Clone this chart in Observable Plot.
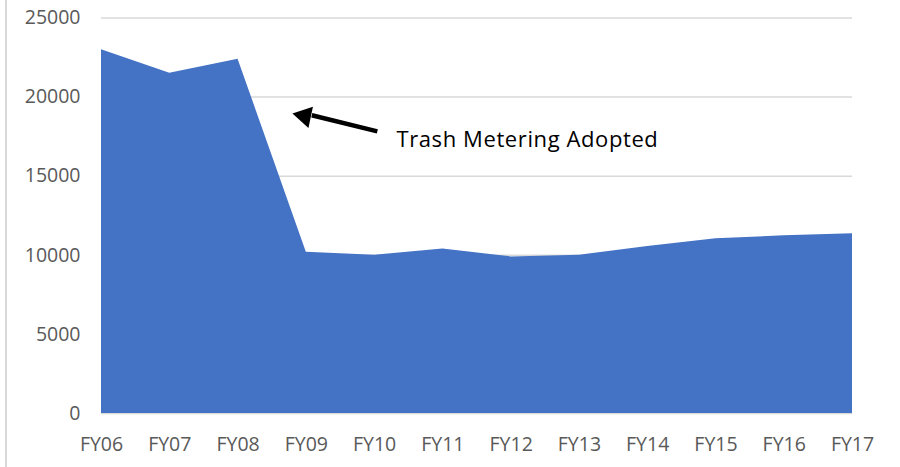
<!DOCTYPE html>
<html>
<head>
<meta charset="utf-8">
<script src="https://cdn.jsdelivr.net/npm/d3@7"></script>
<script src="https://cdn.jsdelivr.net/npm/@observablehq/plot@0.6"></script>
<style>
  html, body { margin: 0; padding: 0; background: #fff; }
  #chart { position: relative; width: 900px; height: 467px; }
  #chart::before { content: ""; position: absolute; left: 5px; top: 0; width: 2px; height: 467px; background: #d9d9d9; }
  svg { font-family: "Open Sans", sans-serif; }
</style>
</head>
<body>
<div id="chart"></div>
<script>
// Categories and values
const years = ["FY06","FY07","FY08","FY09","FY10","FY11","FY12","FY13","FY14","FY15","FY16","FY17"];
const tonnage = [23000, 21500, 22400, 10200, 10000, 10400, 9900, 10000, 10550, 11050, 11230, 11360];
const yTicks = [0, 5000, 10000, 15000, 20000, 25000];

// Annotation (in data units: x = year index, y = value)
const annotationText = ["Trash Metering Adopted"];
const annotationPos = [{x: 4.32, y: 17275}];
const arrowShaft = [{x1: 4.04, y1: 17830, x2: 3.08, y2: 18850}];
const arrowHead = [{x: 2.975, y: 18799}];

const data = years.map((label, i) => ({i, label, value: tonnage[i]}));

const chart = Plot.plot({
  width: 900,
  height: 467,
  marginLeft: 101,
  marginRight: 48,
  marginTop: 17.5,
  marginBottom: 54,
  style: {fontFamily: "Open Sans, sans-serif", background: "transparent"},
  x: {domain: [0, years.length - 1], ticks: years.map((d, i) => i), tickFormat: i => years[i], label: null, tickSize: 0, tickPadding: 24},
  y: {domain: [0, 25000], ticks: yTicks, tickFormat: d => String(d), label: null, tickSize: 0, tickPadding: 21},
  marks: [
    Plot.ruleY(yTicks, {stroke: "#d9d9d9", strokeWidth: 1.5}),
    Plot.areaY(data, {x: "i", y: "value", fill: "#4472C4"}),
    Plot.axisX({ticks: years.map((d, i) => i), tickFormat: i => years[i], tickSize: 0, tickPadding: 24, fontSize: 19.5, fill: "#595959", label: null}),
    Plot.axisY({ticks: yTicks, tickFormat: d => String(d), tickSize: 0, tickPadding: 21, fontSize: 19.5, fill: "#595959", label: null}),
    Plot.link(arrowShaft, {x1: "x1", y1: "y1", x2: "x2", y2: "y2", stroke: "black", strokeWidth: 4.5}),
    Plot.dot(arrowHead, {x: "x", y: "y", symbol: "triangle", r: 8, fill: "black", stroke: "none", rotate: -78}),
    Plot.text(annotationPos, {x: "x", y: "y", text: () => annotationText[0], textAnchor: "start", fontSize: 22, fill: "#000", style: "letter-spacing: 0.6px"})
  ]
});

chart.querySelectorAll("text").forEach(t => {
  if (t.textContent === annotationText[0]) t.style.letterSpacing = "0.6px";
});

document.getElementById("chart").appendChild(chart);
</script>
</body>
</html>
